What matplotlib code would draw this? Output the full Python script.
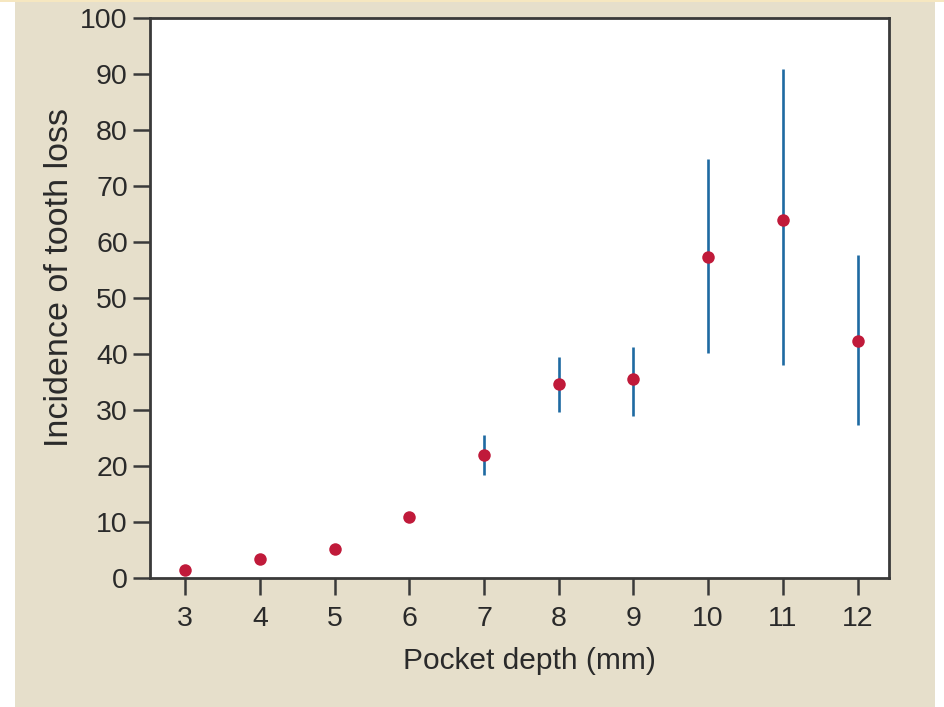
import numpy as np
import matplotlib
matplotlib.use("Agg")
import matplotlib.pyplot as plt
from matplotlib.patches import Rectangle

# Data
pocket_depth = [3, 4, 5, 6, 7, 8, 9, 10, 11, 12]
incidence = [1.4, 3.4, 5.2, 10.9, 22.0, 34.6, 35.6, 57.3, 64.0, 42.3]
ci_upper = [1.4, 3.4, 5.2, 10.9, 25.6, 39.5, 41.3, 74.8, 90.9, 57.6]
ci_lower = [1.4, 3.4, 5.2, 10.9, 18.4, 29.7, 29.0, 40.2, 38.1, 27.4]
y_ticks = [0, 10, 20, 30, 40, 50, 60, 70, 80, 90, 100]
x_label = "Pocket depth (mm)"
y_label = "Incidence of tooth loss"

beige = "#E6DFCB"
red = "#C01A3A"
blue = "#1E6AA2"
axis_col = "#3A3A3A"
text_col = "#2A2A2A"

plt.rcParams['font.family'] = ['Liberation Sans', 'DejaVu Sans']

fig = plt.figure(figsize=(9.45, 7.07), dpi=100)
fig.patch.set_facecolor(beige)
# white margins at the left and right edges, thin light strip at top
fig.add_artist(Rectangle((0, 0), 15 / 945, 1, transform=fig.transFigure,
                         facecolor="white", edgecolor="none", zorder=-1))
fig.add_artist(Rectangle((935 / 945, 0), 10 / 945, 1, transform=fig.transFigure,
                         facecolor="white", edgecolor="none", zorder=-1))
fig.add_artist(Rectangle((0, 1 - 2 / 707), 1, 2 / 707, transform=fig.transFigure,
                         facecolor="#F6E7C0", edgecolor="none", zorder=-1))

ax = fig.add_axes([150 / 945, 1 - 578 / 707, (889 - 150) / 945, (578 - 18) / 707])
ax.set_facecolor("white")

x = np.array(pocket_depth, dtype=float)
y = np.array(incidence)
yerr = np.vstack([y - np.array(ci_lower), np.array(ci_upper) - y])

ax.errorbar(x, y, yerr=yerr, fmt='none', ecolor=blue, elinewidth=1.9,
            capsize=0, zorder=2)
ax.plot(x, y, 'o', color=red, markersize=9, markeredgewidth=0, zorder=3)

ax.set_xlim(2.53, 12.42)
ax.set_ylim(0, 100)
ax.set_xticks(pocket_depth)
ax.set_yticks(y_ticks)

for s in ax.spines.values():
    s.set_color(axis_col)
    s.set_linewidth(2.0)

ax.tick_params(axis='both', direction='out', length=12, width=1.8,
               color=axis_col, labelcolor=text_col, labelsize=20.5)
ax.tick_params(axis='y', pad=4)
ax.tick_params(axis='x', pad=8)

ax.set_xlabel(x_label, fontsize=21.5, color=text_col, labelpad=11)
ax.set_ylabel(y_label, fontsize=24.5, color=text_col, labelpad=4)
ax.xaxis.label.set_x(0.5135)
ax.yaxis.label.set_y(0.537)

fig.savefig("out.png", dpi=100, facecolor=fig.get_facecolor())
